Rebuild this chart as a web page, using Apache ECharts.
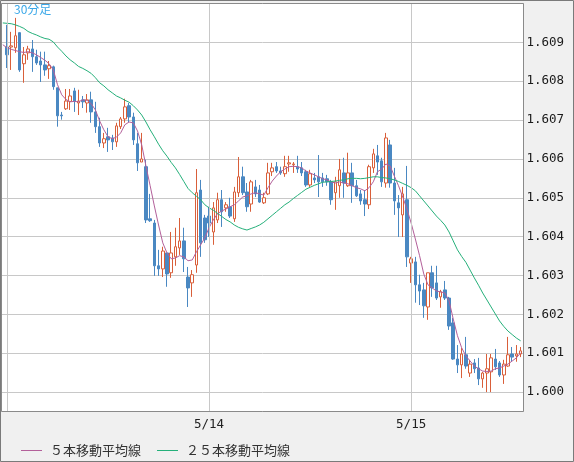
<!DOCTYPE html>
<html><head><meta charset="utf-8">
<script src="https://cdn.jsdelivr.net/npm/echarts@6/dist/echarts.min.js"></script>
<style>html,body{margin:0;padding:0;background:#f0f0f0}#c{width:574px;height:462px}</style>
</head><body><div id="c"></div>
<script>
// categories: 30-minute bars, first slot (5/12 23:30) is just before the visible window
const startMonth = 5, startDay = 12, startMinutes = 23 * 60 + 30, barCount = 124;
const categories = [];
for (let i = 0; i < barCount; i++) {
  const t = startMinutes + i * 30;
  const d = startDay + Math.floor(t / 1440);
  const m = t % 1440;
  categories.push(startMonth + '/' + d + ' ' + Math.floor(m / 60) + ':' + String(m % 60).padStart(2, '0'));
}
const dayTickLabels = ['5/14', '5/15'];
const seriesNames = ['５本移動平均線', '２５本移動平均線'];

const opens = [1.60888,1.60888,1.60886,1.60925,1.60845,1.60873,1.60883,1.60863,1.60852,1.60842,
1.60832,1.60837,1.60783,1.60713,1.60729,1.60748,1.60775,1.60744,1.60752,1.60744,
1.60752,1.60721,1.60683,1.60641,1.60657,1.60654,1.60644,1.60683,1.60703,1.60737,
1.60708,1.60639,1.60592,1.60580,1.60446,1.60435,1.60325,1.60317,1.60358,1.60307,
1.60348,1.60371,1.60389,1.60296,1.60281,1.60327,1.60520,1.60448,1.60453,1.60412,
1.60443,1.60495,1.60474,1.60477,1.60446,1.60513,1.60554,1.60515,1.60484,1.60528,
1.60520,1.60487,1.60510,1.60567,1.60580,1.60569,1.60562,1.60587,1.60585,1.60580,
1.60577,1.60567,1.60533,1.60551,1.60554,1.60551,1.60549,1.60541,1.60513,1.60531,
1.60564,1.60531,1.60564,1.60531,1.60510,1.60495,1.60482,1.60577,1.60608,1.60595,
1.60538,1.60636,1.60538,1.60487,1.60456,1.60495,1.60332,1.60335,1.60276,1.60263,
1.60219,1.60307,1.60281,1.60245,1.60263,1.60242,1.60178,1.60085,1.60070,1.60096,
1.60049,1.60075,1.60062,1.60034,1.60049,1.60052,1.60085,1.60075,1.60044,1.60067,
1.60098,1.60093,1.60098];
const closes = [1.60868,1.60891,1.60917,1.60829,1.60868,1.60883,1.60863,1.60847,1.60842,1.60829,
1.60840,1.60786,1.60711,1.60711,1.60749,1.60762,1.60749,1.60749,1.60747,1.60752,
1.60721,1.60683,1.60641,1.60652,1.60649,1.60644,1.60685,1.60703,1.60734,1.60708,
1.60649,1.60590,1.60600,1.60443,1.60441,1.60325,1.60317,1.60363,1.60304,1.60358,
1.60374,1.60389,1.60343,1.60268,1.60302,1.60513,1.60384,1.60392,1.60435,1.60474,
1.60495,1.60464,1.60482,1.60453,1.60515,1.60554,1.60513,1.60477,1.60541,1.60510,
1.60489,1.60500,1.60564,1.60577,1.60569,1.60564,1.60580,1.60590,1.60587,1.60574,
1.60564,1.60533,1.60562,1.60546,1.60541,1.60541,1.60541,1.60495,1.60541,1.60572,
1.60538,1.60564,1.60531,1.60505,1.60492,1.60484,1.60580,1.60613,1.60592,1.60541,
1.60654,1.60538,1.60492,1.60474,1.60510,1.60348,1.60343,1.60276,1.60260,1.60222,
1.60307,1.60268,1.60242,1.60258,1.60242,1.60170,1.60085,1.60070,1.60098,1.60067,
1.60072,1.60060,1.60034,1.60049,1.60060,1.60088,1.60065,1.60044,1.60072,1.60096,
1.60090,1.60098,1.60106];
const lows = [1.60834,1.60829,1.60873,1.60824,1.60796,1.60855,1.60824,1.60842,1.60798,1.60814,
1.60806,1.60778,1.60683,1.60701,1.60726,1.60726,1.60721,1.60713,1.60731,1.60719,
1.60693,1.60667,1.60631,1.60628,1.60618,1.60623,1.60631,1.60677,1.60693,1.60695,
1.60636,1.60569,1.60592,1.60435,1.60438,1.60299,1.60299,1.60296,1.60271,1.60294,
1.60325,1.60353,1.60309,1.60219,1.60245,1.60307,1.60348,1.60384,1.60399,1.60379,
1.60435,1.60425,1.60464,1.60448,1.60438,1.60502,1.60507,1.60464,1.60464,1.60502,
1.60487,1.60484,1.60507,1.60556,1.60564,1.60559,1.60554,1.60567,1.60564,1.60564,
1.60556,1.60528,1.60528,1.60538,1.60502,1.60528,1.60531,1.60482,1.60469,1.60500,
1.60500,1.60528,1.60487,1.60502,1.60482,1.60453,1.60471,1.60564,1.60559,1.60528,
1.60526,1.60526,1.60456,1.60399,1.60399,1.60322,1.60281,1.60230,1.60224,1.60191,
1.60186,1.60245,1.60237,1.60217,1.60237,1.60160,1.60083,1.60049,1.60036,1.60060,
1.60039,1.60049,1.60018,1.60011,1.60000,1.60000,1.60057,1.60039,1.60021,1.60065,
1.60078,1.60078,1.60090];
const highs = [1.60945,1.60927,1.60963,1.60925,1.60888,1.60891,1.60906,1.60881,1.60876,1.60876,
1.60852,1.60840,1.60783,1.60721,1.60780,1.60780,1.60783,1.60778,1.60762,1.60767,
1.60773,1.60747,1.60706,1.60667,1.60680,1.60662,1.60693,1.60708,1.60755,1.60744,
1.60719,1.60667,1.60667,1.60598,1.60510,1.60443,1.60366,1.60374,1.60358,1.60412,
1.60423,1.60448,1.60423,1.60322,1.60314,1.60574,1.60546,1.60456,1.60477,1.60489,
1.60513,1.60520,1.60489,1.60500,1.60528,1.60605,1.60580,1.60538,1.60546,1.60546,
1.60533,1.60513,1.60590,1.60590,1.60592,1.60580,1.60608,1.60608,1.60592,1.60608,
1.60592,1.60572,1.60572,1.60564,1.60610,1.60564,1.60559,1.60546,1.60554,1.60600,
1.60603,1.60616,1.60590,1.60546,1.60520,1.60520,1.60585,1.60626,1.60636,1.60603,
1.60667,1.60649,1.60577,1.60507,1.60528,1.60582,1.60348,1.60348,1.60302,1.60281,
1.60307,1.60325,1.60325,1.60263,1.60286,1.60245,1.60191,1.60121,1.60114,1.60142,
1.60083,1.60085,1.60088,1.60052,1.60098,1.60098,1.60111,1.60080,1.60083,1.60142,
1.60116,1.60121,1.60116];
// moving averages (first value = slot before the window)
const ma5 = [1.60894,1.60886,1.60882,1.60879,1.60876,1.60874,1.60876,1.60873,1.60868,1.60861,
1.60854,1.60845,1.60829,1.60791,1.60765,1.60753,1.60747,1.60748,1.60747,1.60752,
1.60751,1.60742,1.60726,1.60698,1.60675,1.60657,1.60652,1.60656,1.60667,1.60688,
1.60695,1.60693,1.60672,1.60636,1.60582,1.60531,1.60479,1.60430,1.60384,1.60358,
1.60343,1.60345,1.60351,1.60348,1.60338,1.60340,1.60361,1.60379,1.60397,1.60423,
1.60443,1.60459,1.60466,1.60471,1.60477,1.60482,1.60492,1.60502,1.60505,1.60510,
1.60513,1.60510,1.60507,1.60526,1.60543,1.60556,1.60567,1.60574,1.60580,1.60581,
1.60580,1.60577,1.60569,1.60564,1.60559,1.60554,1.60549,1.60546,1.60541,1.60538,
1.60541,1.60538,1.60536,1.60531,1.60526,1.60523,1.60518,1.60526,1.60541,1.60567,
1.60574,1.60587,1.60582,1.60556,1.60531,1.60502,1.60471,1.60435,1.60394,1.60351,
1.60304,1.60276,1.60268,1.60260,1.60258,1.60255,1.60235,1.60188,1.60145,1.60114,
1.60093,1.60080,1.60067,1.60060,1.60054,1.60053,1.60054,1.60060,1.60062,1.60067,
1.60072,1.60080,1.60088,1.60101];
const ma25 = [1.60950,1.60949,1.60948,1.60945,1.60941,1.60936,1.60928,1.60923,1.60919,1.60914,
1.60910,1.60908,1.60901,1.60888,1.60877,1.60865,1.60855,1.60847,1.60838,1.60833,
1.60827,1.60820,1.60809,1.60796,1.60788,1.60778,1.60770,1.60762,1.60757,1.60751,
1.60746,1.60737,1.60726,1.60713,1.60695,1.60675,1.60657,1.60638,1.60621,1.60607,
1.60591,1.60577,1.60560,1.60542,1.60524,1.60513,1.60504,1.60495,1.60482,1.60474,
1.60468,1.60460,1.60452,1.60444,1.60438,1.60430,1.60424,1.60420,1.60417,1.60421,
1.60425,1.60430,1.60437,1.60446,1.60455,1.60464,1.60473,1.60482,1.60489,1.60498,
1.60506,1.60514,1.60522,1.60527,1.60532,1.60536,1.60540,1.60541,1.60542,1.60543,
1.60545,1.60546,1.60549,1.60550,1.60550,1.60549,1.60550,1.60552,1.60554,1.60554,
1.60552,1.60551,1.60549,1.60546,1.60542,1.60537,1.60532,1.60526,1.60518,1.60505,
1.60492,1.60479,1.60466,1.60453,1.60442,1.60430,1.60412,1.60389,1.60366,1.60349,
1.60334,1.60314,1.60294,1.60275,1.60255,1.60237,1.60219,1.60201,1.60183,1.60169,
1.60157,1.60148,1.60139,1.60132];

const yMin = 1.5995, yMax = 1.6100;
const candleData = categories.map((c, i) => i === 0 ? '-' : [opens[i - 1], closes[i - 1], lows[i - 1], highs[i - 1]]);
const isDayStart = (idx) => idx > 0 && categories[idx] && categories[idx].endsWith(' 0:00');
const dayStartCats = categories.filter((c, i) => isDayStart(i));

const chart = echarts.init(document.getElementById('c'), null, { renderer: 'canvas' });
chart.setOption({
  animation: false,
  backgroundColor: '#f0f0f0',
  title: {
    text: '30分足', left: 14, top: 3, padding: 0,
    textStyle: { fontSize: 12, fontWeight: 'normal', color: '#3ba8e8', fontFamily: '"Noto Sans CJK JP", sans-serif' }
  },
  legend: {
    data: seriesNames, left: 16, top: 439, icon: 'rect', itemWidth: 21, itemHeight: 1, itemGap: 16,
    textStyle: { fontSize: 13, color: '#333', fontFamily: '"Noto Sans CJK JP", sans-serif', padding: [0, 0, 0, 3] }
  },
  grid: [
    { left: 1.5, top: 3.5, width: 522, height: 408, show: true, backgroundColor: '#ffffff', borderWidth: 0, containLabel: false, outerBoundsMode: 'none' },
    { left: 2.8, top: 3.5, width: 517.8, height: 408, containLabel: false, outerBoundsMode: 'none' }
  ],
  xAxis: [
    { type: 'value', gridIndex: 0, show: false, min: 0, max: 1 },
    {
      type: 'category', gridIndex: 1, data: categories, boundaryGap: false,
      axisLine: { show: false }, axisTick: { show: false },
      axisLabel: {
        interval: (idx) => isDayStart(idx), margin: 7, fontSize: 12.5,
        fontFamily: '"DejaVu Sans Mono", monospace', color: '#222',
        formatter: (v) => { const d = v.split(' ')[0]; return dayTickLabels.indexOf(d) >= 0 ? d : ''; }
      },
      splitLine: { show: false }
    }
  ],
  yAxis: [
    {
      type: 'value', gridIndex: 0, position: 'right', min: yMin, max: yMax, splitNumber: 10,
      axisLine: { show: false }, axisTick: { show: false },
      axisLabel: {
        margin: 3, fontSize: 12.5, fontFamily: '"DejaVu Sans Mono", monospace', color: '#1a1a1a',
        showMinLabel: false, showMaxLabel: false, formatter: (v) => v.toFixed(3)
      },
      splitLine: { lineStyle: { color: '#c8c8c8', width: 1 } }
    },
    { type: 'value', gridIndex: 1, min: yMin, max: yMax, show: false, splitLine: { show: false } }
  ],
  series: [
    {
      type: 'candlestick', xAxisIndex: 1, yAxisIndex: 1, data: candleData, barWidth: 3,
      itemStyle: { color: '#ffffff', color0: '#4a88c2', borderColor: '#d95f3a', borderColor0: '#4a88c2', borderWidth: 1 },
      markLine: {
        silent: true, symbol: ['none', 'none'], label: { show: false },
        lineStyle: { color: '#c8c8c8', width: 1, type: 'solid' },
        emphasis: { disabled: true },
        data: dayStartCats.map((c) => ({ xAxis: c }))
      }
    },
    {
      name: seriesNames[0], type: 'line', xAxisIndex: 1, yAxisIndex: 1, data: ma5, showSymbol: false,
      lineStyle: { color: '#b3609a', width: 1 }, itemStyle: { color: '#b3609a' }, z: 3
    },
    {
      name: seriesNames[1], type: 'line', xAxisIndex: 1, yAxisIndex: 1, data: ma25, showSymbol: false,
      lineStyle: { color: '#25b07a', width: 1 }, itemStyle: { color: '#25b07a' }, z: 3
    }
  ],
  graphic: [
    { type: 'rect', z: 100, silent: true, shape: { x: 1.5, y: 3.5, width: 522, height: 408 }, style: { fill: 'none', stroke: '#8a8a8a', lineWidth: 1 } },
    { type: 'rect', z: 100, silent: true, shape: { x: 0.5, y: 0.5, width: 573, height: 461 }, style: { fill: 'none', stroke: '#7a7a7a', lineWidth: 1 } }
  ]
});
</script></body></html>
